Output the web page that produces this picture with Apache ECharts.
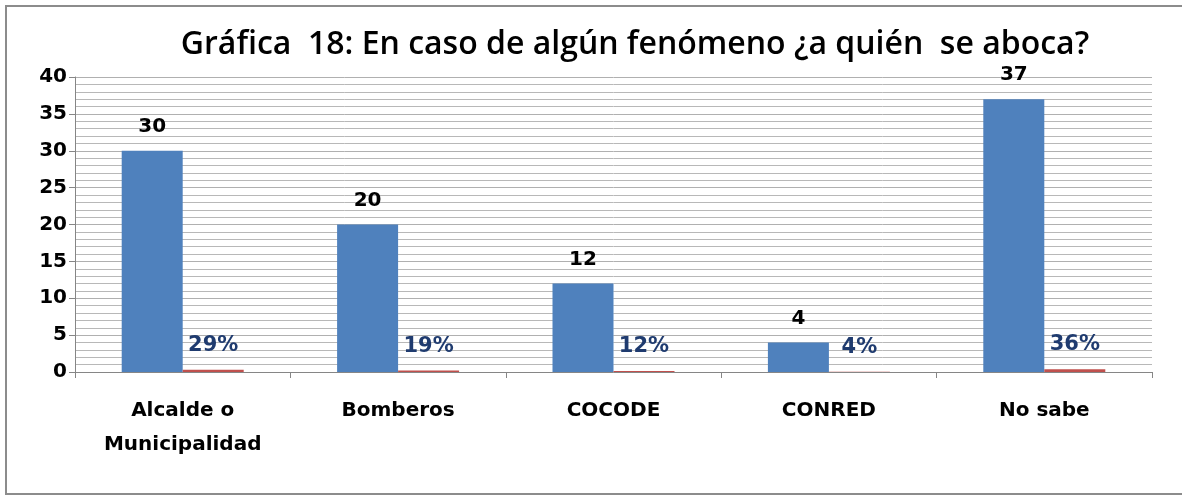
<!DOCTYPE html>
<html>
<head>
<meta charset="utf-8">
<script src="https://cdn.jsdelivr.net/npm/echarts@6/dist/echarts.min.js"></script>
<style>
html, body { margin: 0; padding: 0; background: #fff; overflow: hidden; }
#frame { position: absolute; left: 5px; top: 5px; width: 1200px; height: 486px; border: 2px solid #8c8c8c; }
#chart { position: absolute; left: 0; top: 0; width: 1182px; height: 497px; }
</style>
</head>
<body>
<div id="frame"></div>
<div id="chart"></div>
<script>
// datos de la gráfica 18
var categorias = ['Alcalde o\nMunicipalidad', 'Bomberos', 'COCODE', 'CONRED', 'No sabe'];
var cantidades = [30, 20, 12, 4, 37];
var porcentajes = [29, 19, 12, 4, 36];
var ticksY = [0, 5, 10, 15, 20, 25, 30, 35, 40];

var chart = echarts.init(document.getElementById('chart'));

var fuente = 'DejaVu Sans';

var option = {
    animation: false,
    title: {
        text: 'Gráfica  18: En caso de algún fenómeno ¿a quién  se aboca?',
        left: 630,
        textAlign: 'center',
        top: 24,
        textStyle: { fontFamily: 'Open Sans', fontWeight: 600, fontSize: 32, color: '#000' }
    },
    grid: { left: 75, right: 30, top: 77, bottom: 125 },
    xAxis: {
        type: 'category',
        data: categorias,
        axisLine: { lineStyle: { color: '#868686', width: 1 } },
        axisTick: { show: true, length: 6, lineStyle: { color: '#868686' } },
        axisLabel: {
            color: '#000', fontFamily: fuente, fontWeight: 'bold',
            fontSize: 20, lineHeight: 34, margin: 22
        }
    },
    yAxis: {
        type: 'value',
        min: ticksY[0],
        max: ticksY[ticksY.length - 1],
        interval: 5,
        axisLine: { show: true, lineStyle: { color: '#868686' } },
        axisTick: { show: true, length: 6, lineStyle: { color: '#868686' } },
        axisLabel: {
            color: '#000', fontFamily: fuente, fontWeight: 'bold',
            fontSize: 20, margin: 8
        },
        splitLine: { lineStyle: { color: '#b0b0b0', width: 1 } },
        minorTick: { show: false, splitNumber: 5 },
        minorSplitLine: { show: true, lineStyle: { color: '#b8b8b8', width: 1 } }
    },
    series: [
        {
            name: 'Cantidad',
            type: 'bar',
            data: cantidades,
            barWidth: 61,
            barGap: '0%',
            itemStyle: { color: '#4f81bd' },
            label: {
                show: true, position: 'top', distance: 14,
                color: '#000', fontFamily: fuente, fontWeight: 'bold', fontSize: 20
            }
        },
        {
            name: 'Porcentaje',
            type: 'bar',
            data: porcentajes.map(function (p) { return p / 100; }),
            barWidth: 61,
            itemStyle: { color: '#c0504d' },
            label: {
                show: true, position: 'top', distance: 14,
                formatter: function (p) { return porcentajes[p.dataIndex] + '%'; },
                color: '#1f3b6f', fontFamily: fuente, fontWeight: 'bold', fontSize: 21
            }
        }
    ]
};

chart.setOption(option);
</script>
</body>
</html>
